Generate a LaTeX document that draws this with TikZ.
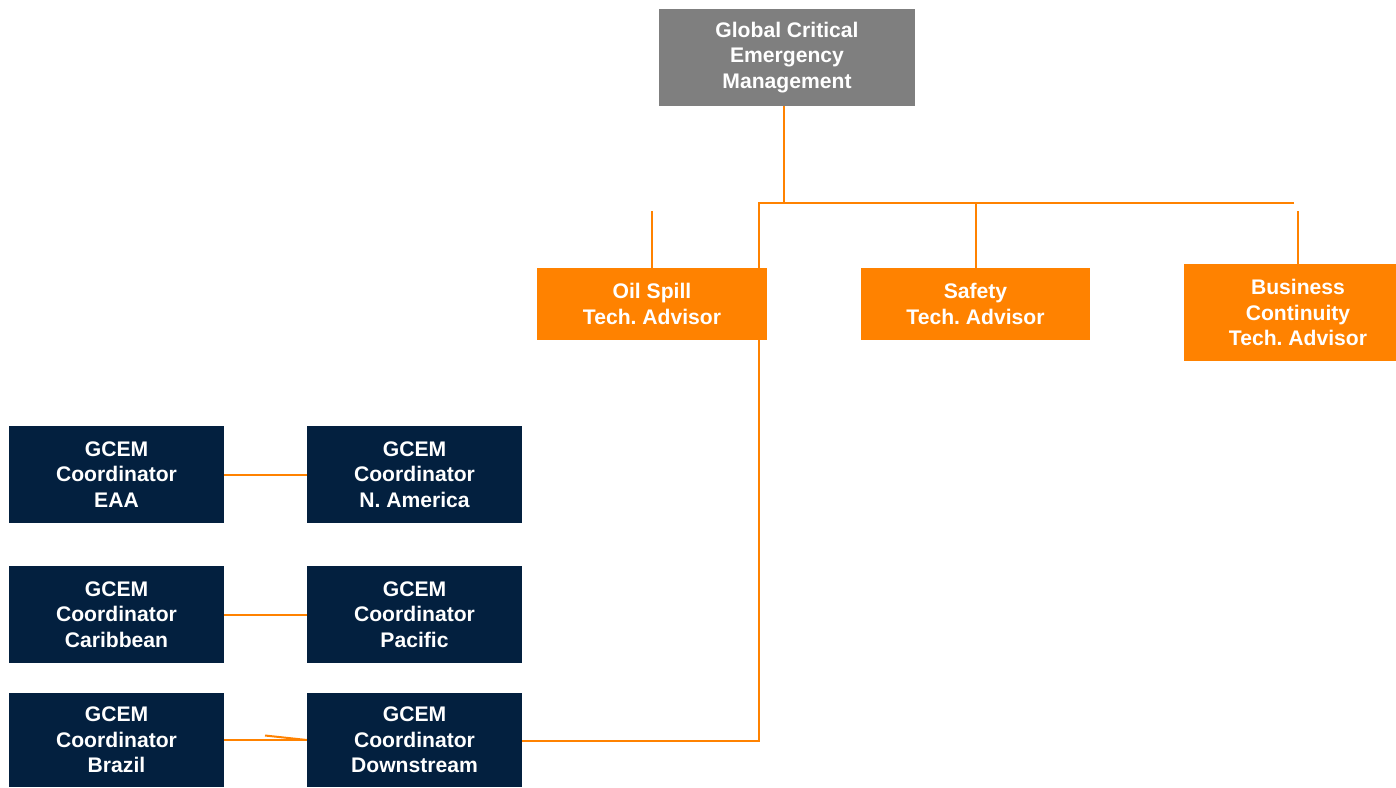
\documentclass[tikz,border=0pt]{standalone}
\usepackage{fontspec}
\setmainfont{Liberation Sans}
\usetikzlibrary{backgrounds}
\definecolor{gcemgray}{HTML}{7F7F7F}
\definecolor{gcemorange}{HTML}{FF8200}
\definecolor{gcemnavy}{HTML}{03203F}
\begin{document}
\frenchspacing
\begin{tikzpicture}[x=1bp,y=-1bp,
  box/.style={inner sep=0pt, outer sep=0pt, text=white, align=center,
    font=\bfseries\fontsize{21.2}{25.8}\selectfont},
  headbox/.style={box, fill=gcemgray, minimum width=256bp, minimum height=97bp},
  advisor/.style={box, fill=gcemorange, minimum height=72bp},
  coordbox/.style={box, fill=gcemnavy, minimum width=215bp, minimum height=97bp},
  link/.style={draw=gcemorange, line width=2bp}]
\useasboundingbox (0,0) rectangle (1396,787);

% head of the organisation
\node[headbox] (head) at (787,57.5) {Global Critical\\Emergency\\Management};

% technical advisors (the right-hand box runs past the page edge)
\node[advisor, minimum width=230bp] (oil) at (652,304) {Oil Spill\\Tech. Advisor};
\node[advisor, minimum width=229bp] (safety) at (975.5,304) {Safety\\Tech. Advisor};
\node[advisor, minimum width=228bp, minimum height=97bp] (bc) at (1298,312.5) {Business\\Continuity\\Tech. Advisor};

% regional coordinators
\node[coordbox] (eaa) at (116.5,474.5) {GCEM\\Coordinator\\EAA};
\node[coordbox] (nam) at (414.5,474.5) {GCEM\\Coordinator\\N. America};
\node[coordbox] (carib) at (116.5,614.5) {GCEM\\Coordinator\\Caribbean};
\node[coordbox] (pacific) at (414.5,614.5) {GCEM\\Coordinator\\Pacific};
\node[coordbox, minimum height=94bp] (brazil) at (116.5,740) {GCEM\\Coordinator\\Brazil};
\node[coordbox, minimum height=94bp] (down) at (414.5,740) {GCEM\\Coordinator\\Downstream};

% connector anchor points
\coordinate (busL) at (759,203);
\coordinate (busR) at (1294,203);
\coordinate (headfoot) at (784,106);
\coordinate (spine) at (759,740.5);
\coordinate (oilstub) at (652,211);
\coordinate (bcstub) at (1298,211);
\coordinate (slant) at (265,735.5);

\begin{scope}[on background layer]
  \draw[link] (headfoot) -- (headfoot |- busL);
  \draw[link] (busR) -- (busL) -- (spine) -- (spine -| down.east);
  \draw[link] (safety.north |- busL) -- (safety.north);
  \draw[link] (oilstub) -- (oil.north);
  \draw[link] (bcstub) -- (bc.north);
  \draw[link] (eaa.east) -- (nam.west);
  \draw[link] (carib.east) -- (pacific.west);
  \draw[link] (brazil.east) -- (down.west);
  \draw[link] (slant) -- (down.west);
\end{scope}
\end{tikzpicture}
\end{document}
